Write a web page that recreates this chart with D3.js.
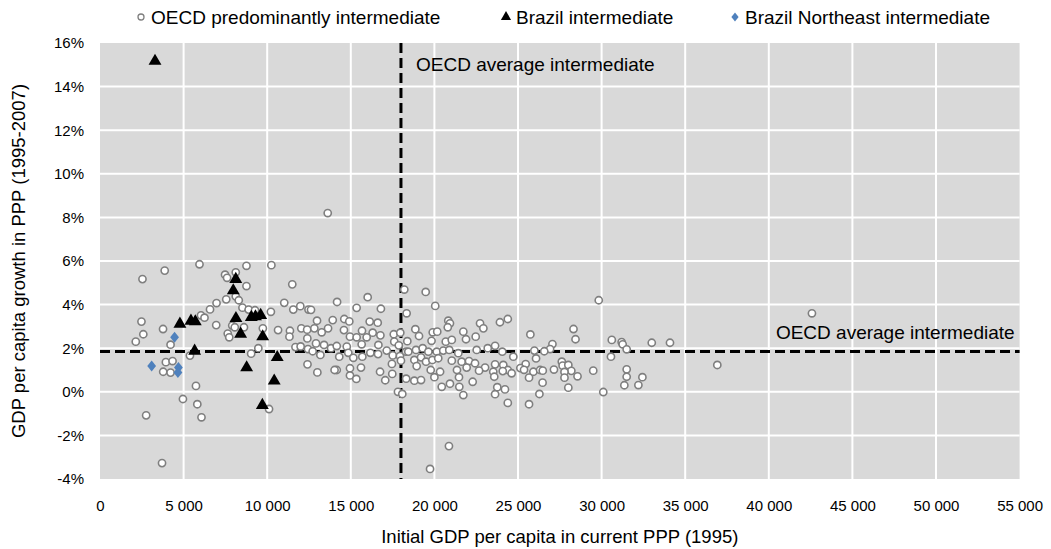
<!DOCTYPE html>
<html>
<head>
<meta charset="utf-8">
<script src="https://cdn.jsdelivr.net/npm/d3@7"></script>
<style>
  body { margin: 0; background: #fff; }
  svg { font-family: "Liberation Sans", Arial, sans-serif; }
  .tick text { fill: #000; }
</style>
</head>
<body>
<svg id="chart" width="1051" height="549"></svg>
<script>
// initial GDP per capita (PPP, 1995) and growth 1995-2007 (%)
const oecdPoints = [
  [2140,2.30],[2480,3.22],[2540,5.17],[2590,2.64],[2760,-1.08],[3710,-3.27],[3870,5.56],[3770,2.88],[4220,2.16],[3940,1.36],
  [4340,1.41],[3780,0.92],[4220,0.88],[5380,1.66],[5740,0.27],[4960,-0.33],[5820,-0.57],[6070,-1.17],[5950,5.85],[6040,3.51],
  [6250,3.40],[6580,3.78],[6970,4.07],[6950,3.06],[7480,5.37],[7600,5.23],[8120,5.48],[7550,4.24],[8120,4.38],[8300,4.20],
  [8520,3.86],[8890,3.77],[9270,3.74],[8760,5.78],[8760,4.85],[10250,5.81],[11500,4.93],[10220,3.67],[11020,4.08],[11560,3.77],
  [11980,3.93],[12470,3.77],[7640,2.67],[7730,2.50],[7910,3.04],[8060,2.96],[8610,2.96],[9740,2.91],[10650,2.83],[11360,2.80],
  [11330,2.53],[12040,2.91],[12390,2.85],[12400,2.45],[11690,2.05],[12000,2.08],[12440,1.96],[9470,2.00],[9040,1.75],[12410,1.26],
  [10110,-0.79],[12620,3.76],[14180,4.12],[15350,3.85],[16010,4.34],[16800,3.81],[18200,4.69],[18340,3.60],[12980,3.26],[13920,3.29],
  [14610,3.34],[14910,3.23],[16130,3.22],[16610,3.17],[12820,2.91],[13260,2.73],[13640,2.91],[14590,2.83],[15670,2.80],[16310,2.71],
  [16770,2.59],[17570,2.64],[17960,2.71],[14950,2.53],[15350,2.50],[15950,2.50],[12920,2.22],[13400,2.15],[13820,2.00],[14160,2.10],
  [14760,2.07],[15650,2.18],[16650,2.15],[17600,2.30],[17870,2.13],[18380,2.32],[12720,1.86],[13180,1.69],[14310,1.61],[14850,1.79],
  [15150,1.56],[15690,1.61],[16170,1.79],[16630,1.73],[17150,1.89],[17510,1.67],[17940,1.64],[18300,1.84],[14160,1.00],[14030,1.00],
  [14950,1.08],[15610,1.11],[16750,0.92],[17460,1.28],[18000,1.43],[13000,0.89],[14950,0.75],[15330,0.59],[17060,0.53],[17480,0.82],
  [18310,0.60],[17820,0.00],[18080,-0.10],[13620,8.20],[19480,4.58],[20050,3.94],[18860,2.87],[19080,2.56],[19900,2.73],[20170,2.76],
  [20830,3.26],[20930,3.14],[20800,2.96],[21730,2.76],[21890,2.41],[22730,3.14],[22930,2.91],[22470,2.53],[23920,3.19],[24390,3.34],
  [19830,2.34],[20680,2.30],[21040,2.38],[18440,1.84],[18900,1.92],[19300,2.00],[19640,1.84],[20140,1.84],[20530,1.89],[20890,1.92],
  [21430,1.77],[22530,1.92],[23190,2.00],[23630,2.11],[24060,1.84],[24720,1.61],[18800,1.46],[19200,1.58],[19500,1.38],[19880,1.46],
  [20230,1.54],[21040,1.43],[21630,1.38],[22070,1.41],[22430,1.31],[23030,1.11],[23630,1.26],[24120,1.23],[24390,1.00],[18940,1.18],
  [19780,1.00],[20340,0.92],[21350,1.00],[21930,1.11],[22670,0.97],[23520,0.92],[24090,0.95],[18800,0.51],[19200,0.54],[20000,0.67],
  [21470,0.67],[22290,0.46],[23580,0.69],[20440,0.23],[20930,0.37],[21490,0.23],[21730,-0.15],[23760,0.21],[24220,0.11],[23630,-0.11],
  [24390,-0.51],[20870,-2.49],[19740,-3.54],[25740,2.63],[28320,2.88],[28440,2.41],[29830,4.20],[30610,2.38],[31200,2.28],[31260,2.18],
  [31500,1.95],[33000,2.25],[34090,2.25],[27060,2.19],[26920,1.96],[26570,1.86],[25980,1.89],[26080,1.53],[25460,1.27],[30560,1.61],
  [25140,1.09],[25360,1.01],[25920,0.92],[26320,1.00],[26480,0.97],[27150,1.02],[27620,1.38],[27670,1.20],[28010,1.23],[28190,0.96],
  [27780,0.91],[28560,0.71],[27780,0.65],[29500,0.97],[24620,0.85],[25660,0.65],[26470,0.42],[28010,0.19],[26280,-0.10],[30100,-0.01],
  [25660,-0.57],[31500,1.03],[31500,0.69],[31360,0.30],[32200,0.31],[32440,0.67],[36920,1.23],[42580,3.60]
];
const brazilPoints = [
  [3290,15.17],[8120,5.16],[7970,4.64],[4780,3.11],[5440,3.25],[5700,3.22],[8130,3.37],[9050,3.42],[9300,3.45],
  [9610,3.51],[8410,2.65],[9730,2.53],[5660,1.87],[8770,1.11],[10600,1.58],[10420,0.50],[9710,-0.62]
];
const brazilNEPoints = [[4460,2.50],[3090,1.18],[4690,1.11],[4660,0.88]];

const xTicks = d3.range(0, 55001, 5000);
const yTicks = d3.range(-4, 17, 2);
const oecdAvgGdp = 18000;
const oecdAvgGrowth = 1.85;

const legendItems = ['OECD predominantly intermediate', 'Brazil intermediate', 'Brazil Northeast intermediate'];

const plot = { left: 100, right: 1019.6, top: 43, bottom: 479 };

const svg = d3.select('#chart');
const x = d3.scaleLinear().domain([0, 55000]).range([plot.left, plot.right]);
const y = d3.scaleLinear().domain([-4, 16]).range([plot.bottom, plot.top]);

const spaceFmt = d3.formatLocale({ decimal: '.', thousands: '\u00a0', grouping: [3], currency: ['', ''] }).format(',d');

// plot background
svg.append('rect')
    .attr('x', plot.left).attr('y', plot.top)
    .attr('width', plot.right - plot.left).attr('height', plot.bottom - plot.top)
    .attr('fill', '#d9d9d9');

// gridlines
const gridG = svg.append('g');
gridG.selectAll('line.v')
    .data(xTicks.filter(d => d > 0 && d < 55000))
    .join('line')
        .attr('x1', d => x(d)).attr('x2', d => x(d))
        .attr('y1', plot.top).attr('y2', plot.bottom)
        .attr('stroke', '#fff').attr('stroke-width', 2);
gridG.selectAll('line.h')
    .data(yTicks.filter(d => d > -4 && d < 16))
    .join('line')
        .attr('x1', plot.left).attr('x2', plot.right)
        .attr('y1', d => y(d)).attr('y2', d => y(d))
        .attr('stroke', '#fff').attr('stroke-width', 2);

// axes
const xAxis = svg.append('g')
    .attr('transform', `translate(0,${plot.bottom})`)
    .call(d3.axisBottom(x).tickValues(xTicks).tickSize(0).tickPadding(21).tickFormat(spaceFmt));
const yAxis = svg.append('g')
    .attr('transform', `translate(${plot.left},0)`)
    .call(d3.axisLeft(y).tickValues(yTicks).tickSize(0).tickPadding(16).tickFormat(d => d + '%'));
[xAxis, yAxis].forEach(a => {
    a.select('.domain').remove();
    a.selectAll('text').attr('font-size', 15).attr('font-family', '"Liberation Sans", Arial, sans-serif');
});

// OECD average reference lines
svg.append('line')
    .attr('x1', x(oecdAvgGdp)).attr('x2', x(oecdAvgGdp))
    .attr('y1', plot.top).attr('y2', plot.bottom)
    .attr('stroke', '#000').attr('stroke-width', 3).attr('stroke-dasharray', '10,5');
svg.append('line')
    .attr('x1', plot.left).attr('x2', plot.right)
    .attr('y1', y(oecdAvgGrowth)).attr('y2', y(oecdAvgGrowth))
    .attr('stroke', '#000').attr('stroke-width', 3).attr('stroke-dasharray', '10,5');

svg.append('text')
    .attr('x', x(oecdAvgGdp) + 15).attr('y', plot.top + 28)
    .attr('font-size', 19)
    .text('OECD average intermediate');
svg.append('text')
    .attr('x', plot.right - 5).attr('y', y(oecdAvgGrowth) - 12)
    .attr('text-anchor', 'end')
    .attr('font-size', 19)
    .text('OECD average intermediate');

// markers
const triangle = d3.symbol().type(d3.symbolTriangle).size(72);
const diamond = s => `M0,${-s}L${s * 0.8},0L0,${s}L${-s * 0.8},0Z`;

svg.append('g').selectAll('circle')
    .data(oecdPoints)
    .join('circle')
        .attr('cx', d => x(d[0])).attr('cy', d => y(d[1]))
        .attr('r', 3.6)
        .attr('fill', '#fff').attr('stroke', '#7f7f7f').attr('stroke-width', 1.6);

svg.append('g').selectAll('path')
    .data(brazilPoints)
    .join('path')
        .attr('transform', d => `translate(${x(d[0])},${y(d[1])})`)
        .attr('d', triangle)
        .attr('fill', '#000');

svg.append('g').selectAll('path')
    .data(brazilNEPoints)
    .join('path')
        .attr('transform', d => `translate(${x(d[0])},${y(d[1])})`)
        .attr('d', diamond(5.5))
        .attr('fill', '#4f81bd');

// axis titles
svg.append('text')
    .attr('x', (plot.left + plot.right) / 2).attr('y', 543)
    .attr('text-anchor', 'middle').attr('font-size', 18.5)
    .text('Initial GDP per capita in current PPP (1995)');
svg.append('text')
    .attr('transform', `translate(25,${(plot.top + plot.bottom) / 2}) rotate(-90)`)
    .attr('text-anchor', 'middle').attr('font-size', 18.5)
    .text('GDP per capita growth in PPP (1995-2007)');

// legend
const legendG = svg.append('g').attr('transform', 'translate(0,17)');
const legendX = [141, 506, 735];
legendG.append('circle').attr('cx', legendX[0]).attr('cy', 0).attr('r', 3)
    .attr('fill', '#fff').attr('stroke', '#7f7f7f').attr('stroke-width', 1.3);
legendG.append('path').attr('transform', `translate(${legendX[1]},0)`)
    .attr('d', d3.symbol().type(d3.symbolTriangle).size(45)).attr('fill', '#000');
legendG.append('path').attr('transform', `translate(${legendX[2]},0)`)
    .attr('d', diamond(4.5)).attr('fill', '#4f81bd');
legendG.selectAll('text')
    .data(legendItems)
    .join('text')
        .attr('x', (d, i) => legendX[i] + 10).attr('y', 7)
        .attr('font-size', 19)
        .text(d => d);
</script>
</body>
</html>
